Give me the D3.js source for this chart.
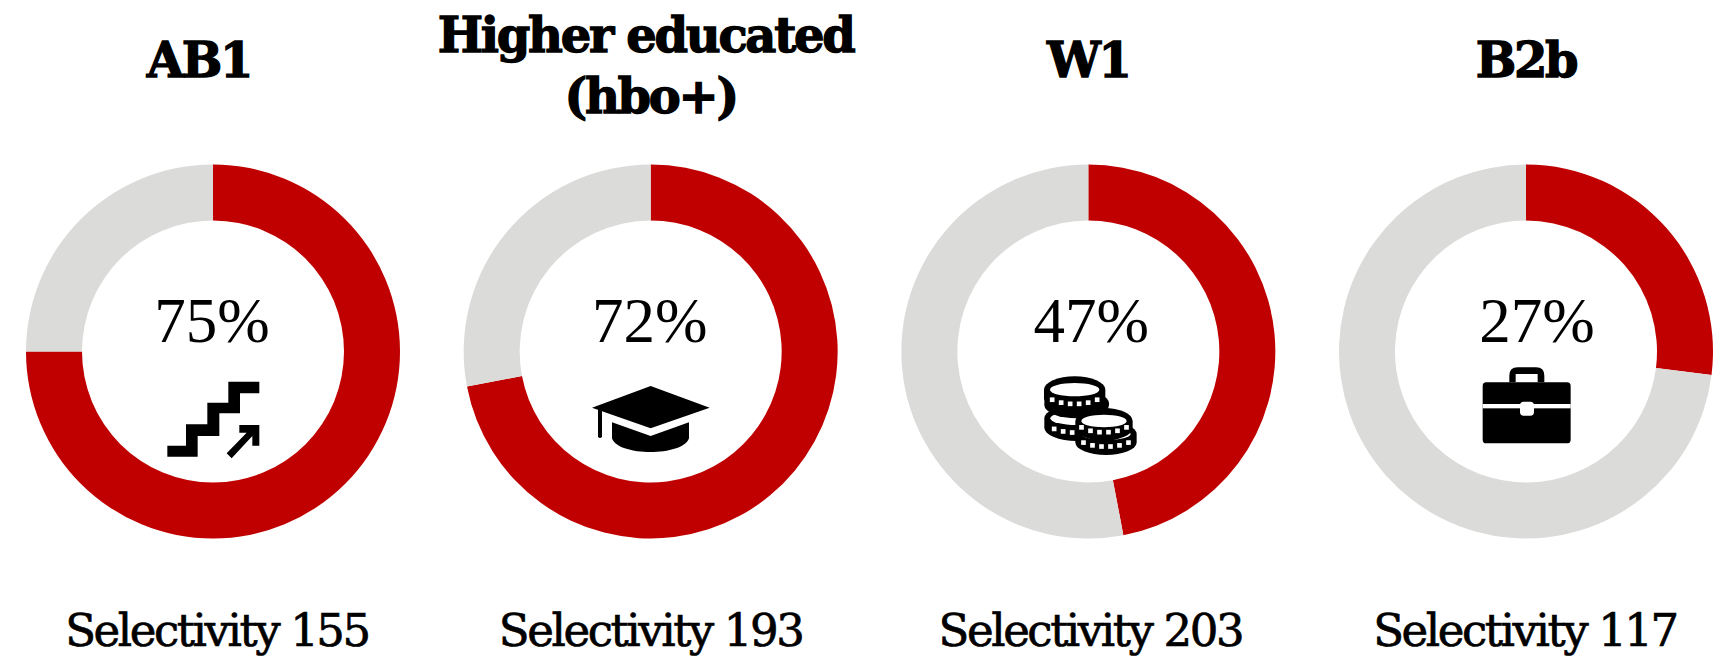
<!DOCTYPE html>
<html>
<head>
<meta charset="utf-8">
<script src="https://cdn.jsdelivr.net/npm/d3@7"></script>
<style>
  html, body { margin: 0; padding: 0; background: #fff; }
  svg { display: block; }
  .title { font-family: "DejaVu Serif", serif; font-weight: 700; font-size: 48px; letter-spacing: -2.3px; text-anchor: middle; fill: #000; stroke: #000; stroke-width: 1.3px; }
  .pct { font-family: "Liberation Serif", serif; font-size: 63px; text-anchor: middle; fill: #000; }
  .sel { font-family: "DejaVu Serif", serif; font-size: 45px; letter-spacing: -2.4px; text-anchor: middle; fill: #000; stroke: #000; stroke-width: 0.7px; }
</style>
</head>
<body>
<svg id="chart" width="1722" height="657"></svg>
<script>
;(function () {
    const width = 1722
    const height = 657

    const categories = ["AB1", "Higher educated|(hbo+)", "W1", "B2b"]
    const shares = [75, 72, 47, 27]
    const selectivity = [155, 193, 203, 117]
    const icons = ["stairs", "cap", "coins", "case"]

    const red = "#c00000"
    const grey = "#dbdbda"

    const outerRadius = 187
    const innerRadius = 131
    const centerY = 351.5

    // the labels are not quite centred on the rings in the original
    const titleNudge = [[-14], [-5, 0], [0], [0]]
    const pctNudge = [-1, -1, 3, 11]
    const selNudge = [4, 0, 2, -1]

    const svg = d3.select("#chart")

    const xPositionScale = d3.scalePoint()
        .domain(categories)
        .range([213, 1526])

    const pie = d3.pie().sort(null).value(d => d)
    const arc = d3.arc().innerRadius(innerRadius).outerRadius(outerRadius)

    const iconDrawers = {
        stairs(g) {
            g.attr("transform", "translate(-83,8.5) scale(0.3333)")
            g.append("path").attr("d", "M295,65H388V100H330V160H268V228H203V290H112V257H168V193H232V128H295Z")
            g.append("path").attr("d", "M328,195H388V257H367V228L305,295L290,280L350,218H328Z")
        },
        cap(g) {
            g.attr("transform", "translate(-81,8.5) scale(0.3333)")
            g.append("path").attr("d", "M243,78L420,143L243,205L67,143Z")
            g.append("path").attr("d", "M85,148L97,152V230Q91,238 85,230Z")
            g.append("path").attr("d", "M127,187L243,228L358,187V235C340,290 145,290 127,235Z")
        },
        coins(g) {
            g.attr("transform", "translate(-69,8.5) scale(0.3333)")
            const coin = (cx, cy, rx, ry, h, holes) => {
                g.append("path")
                    .attr("d", `M${cx - rx},${cy}A${rx},${ry} 0 0 1 ${cx + rx},${cy}V${cy + h}A${rx},${ry} 0 0 1 ${cx - rx},${cy + h}Z`)
                g.append("ellipse")
                    .attr("cx", cx).attr("cy", cy)
                    .attr("rx", rx - 18).attr("ry", ry - 20)
                    .attr("fill", holes ? "#fff" : "#000")
                if (holes) {
                    d3.range(-2.5, 3).forEach(i => {
                        const px = cx + i * 27
                        const py = cy + h + ry * Math.sqrt(1 - (px - cx) * (px - cx) / (rx * rx)) - 25
                        g.append("rect")
                            .attr("x", px - 7).attr("y", py - 7)
                            .attr("width", 14).attr("height", 14)
                            .attr("fill", "#fff")
                    })
                }
            }
            coin(172, 175, 97, 40, 28, true)
            coin(172, 130, 97, 40, 5, false)
            coin(166, 89, 92, 40, 28, true)
            coin(260, 222, 92, 38, 25, true)
            coin(254, 183, 86, 39, 20, true)
        },
        case(g) {
            g.attr("transform", "translate(-66,-1.5) scale(0.3333)")
            g.append("path").attr("fill-rule", "evenodd")
                .attr("d", "M148,97V77Q148,52 173,52H228Q253,52 253,77V97H233V72H167V97Z")
            g.append("rect").attr("x", 68).attr("y", 97).attr("width", 264).attr("height", 183).attr("rx", 11)
            g.append("rect").attr("x", 68).attr("y", 162).attr("width", 264).attr("height", 13).attr("fill", "#fff")
            g.append("rect").attr("x", 180).attr("y", 155).attr("width", 42).attr("height", 42).attr("rx", 11).attr("fill", "#fff")
        }
    }

    categories.forEach(function (category, i) {
        const x = xPositionScale(category)
        const lines = category.split("|")

        // Titles, two lines sit higher than one
        const firstBaseline = lines.length > 1 ? 52 : 77
        lines.forEach(function (line, j) {
            svg.append("text")
                .attr("class", "title")
                .attr("x", x + titleNudge[i][j])
                .attr("y", firstBaseline + j * 61)
                .text(line)
        })

        const ring = svg.append("g")
            .attr("transform", `translate(${x},${centerY})`)

        ring.selectAll("path")
            .data(pie([shares[i], 100 - shares[i]]))
            .enter()
            .append("path")
            .attr("d", arc)
            .attr("fill", (d, k) => k === 0 ? red : grey)

        ring.append("text")
            .attr("class", "pct")
            .attr("x", pctNudge[i])
            .attr("y", -10)
            .text(shares[i] + "%")

        iconDrawers[icons[i]](ring.append("g"))

        svg.append("text")
            .attr("class", "sel")
            .attr("x", x + selNudge[i])
            .attr("y", 646)
            .text("Selectivity " + selectivity[i])
    })
})()
</script>
</body>
</html>
